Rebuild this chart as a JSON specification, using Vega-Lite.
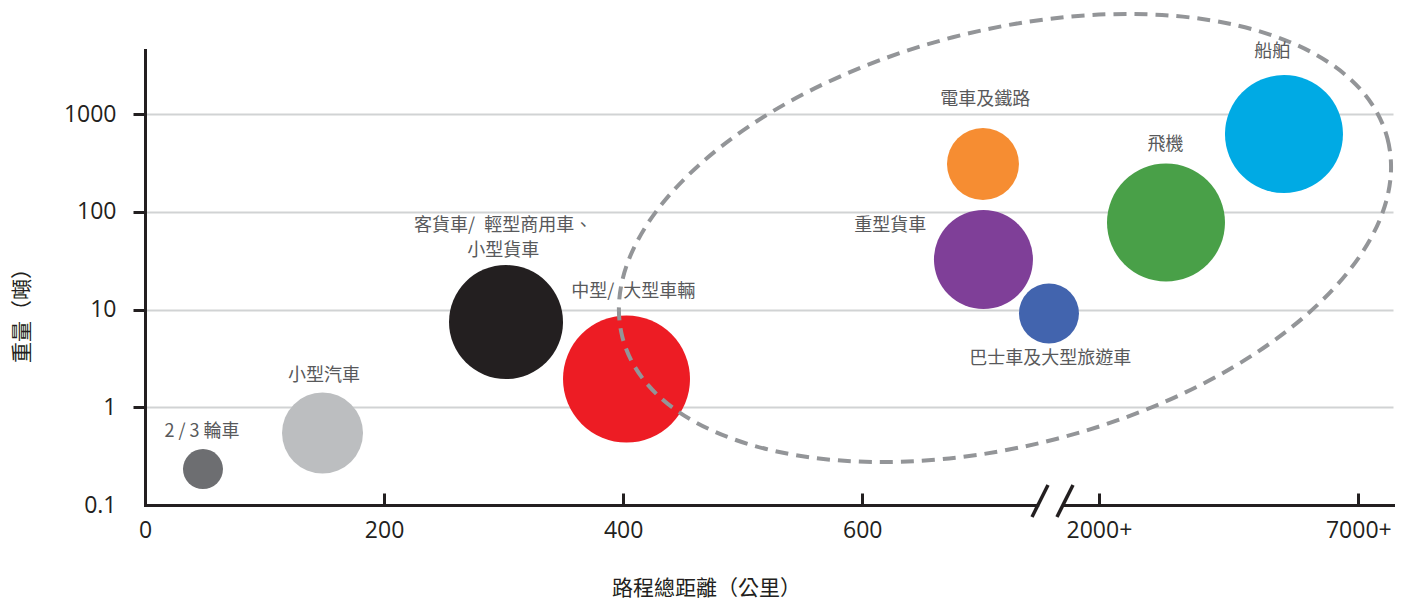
{
  "$schema": "https://vega.github.io/schema/vega-lite/v6.json",
  "width": 1248,
  "height": 455,
  "autosize": {"type": "none"},
  "padding": {"left": 145, "top": 50, "right": 9, "bottom": 98},
  "background": "white",
  "config": {"view": {"stroke": null}, "font": "Noto Sans CJK TC"},
  "datasets": {
    "bubbles": [
      {"name": "2/3輪車", "label": "2 / 3 輪車", "distance": 48.5, "weight": 0.233, "value": 16, "lx": 47.7, "ly": 0.558},
      {"name": "小型汽車", "label": "小型汽車", "distance": 148.5, "weight": 0.545, "value": 65.6, "lx": 149.8, "ly": 2.088},
      {"name": "客貨車", "label": "客貨車/\u2002輕型商用車、\n小型貨車", "distance": 302, "weight": 7.45, "value": 130, "lx": 299.6, "ly": 71.4},
      {"name": "中型/大型車輛", "label": "中型/\u2002大型車輛", "distance": 402.8, "weight": 1.945, "value": 161.3, "lx": 408.4, "ly": 15.1},
      {"name": "電車及鐵路", "label": "電車及鐵路", "distance": 701, "weight": 308, "value": 51.8, "lx": 702.9, "ly": 1390},
      {"name": "重型貨車", "label": "重型貨車", "distance": 701.4, "weight": 32.5, "value": 98, "lx": 623.4, "ly": 71.4},
      {"name": "巴士車及大型旅遊車", "label": "巴士車及大型旅遊車", "distance": 756.2, "weight": 9.1, "value": 36, "lx": 757.3, "ly": 3.12},
      {"name": "飛機", "label": "飛機", "distance": 854.1, "weight": 77.6, "value": 139.2, "lx": 853.6, "ly": 482},
      {"name": "船舶", "label": "船舶", "distance": 952.8, "weight": 624, "value": 139.2, "lx": 943, "ly": 4355}
    ],
    "ring": [{"cx": 719.4, "cy": 53.9}],
    "gap": [{"x": 748, "x2": 767.5, "y": 0.1}],
    "breaks": [
      {"x": 755.4, "y": 0.16, "x2": 742.0, "y2": 0.0754},
      {"x": 776.3, "y": 0.16, "x2": 762.9, "y2": 0.0754}
    ]
  },
  "layer": [
    {
      "data": {"name": "bubbles"},
      "mark": {"type": "circle", "opacity": 1},
      "encoding": {
        "x": {
          "field": "distance", "type": "quantitative", "title": "路程總距離（公里）",
          "scale": {"domain": [0, 1044], "nice": false, "zero": false},
          "axis": {
            "titleFont": "Noto Sans CJK TC", "titleFontSize": 21, "titleFontWeight": "normal", "titleColor": "#231f20",
            "titleX": 561, "titleY": 83, "titleBaseline": "middle", "titleAlign": "center", "titleAnchor": null,
            "values": [0, 200, 400, 600, 798, 1015],
            "labelExpr": "datum.value == 798 ? '2000+' : datum.value == 1015 ? '7000+' : datum.label",
            "labelFont": "Open Sans", "labelFontSize": 23, "labelColor": "#231f20", "labelPadding": 26,
            "labelFlush": false, "labelOverlap": false,
            "domainColor": "#231f20", "domainWidth": 3, "domainCap": "square",
            "tickColor": "#231f20", "tickWidth": 3, "tickSize": -12,
            "tickOpacity": {"condition": {"test": "datum.value == 0", "value": 0}, "value": 1},
            "grid": false
          }
        },
        "y": {
          "field": "weight", "type": "quantitative", "title": "重量（噸）",
          "scale": {"type": "log", "domain": [0.1, 4520], "nice": false},
          "axis": {
            "titleFont": "Noto Sans CJK TC", "titleFontSize": 21, "titleFontWeight": "normal", "titleColor": "#231f20",
            "titleX": -123, "titleY": 260, "titleBaseline": "middle", "titleAlign": "center", "titleAnchor": null, "titleAngle": 270,
            "values": [0.1, 1, 10, 100, 1000], "format": "~g",
            "labelFont": "Open Sans", "labelFontSize": 23, "labelColor": "#231f20", "labelPadding": 17,
            "labelOverlap": false, "labelFlush": false,
            "domainColor": "#231f20", "domainWidth": 3, "domainCap": "square",
            "tickColor": "#231f20", "tickWidth": 3, "tickSize": 12,
            "tickOpacity": {"condition": {"test": "datum.value < 0.5", "value": 0}, "value": 1},
            "grid": true, "gridColor": "#d1d3d4", "gridWidth": 2,
            "gridOpacity": {"condition": {"test": "datum.value < 0.5", "value": 0}, "value": 1}
          }
        },
        "size": {"field": "value", "type": "quantitative", "scale": {"domain": [0, 100], "range": [0, 10000]}, "legend": null},
        "color": {
          "field": "name", "type": "nominal", "legend": null,
          "scale": {
            "domain": ["2/3輪車", "小型汽車", "客貨車", "中型/大型車輛", "電車及鐵路", "重型貨車", "巴士車及大型旅遊車", "飛機", "船舶"],
            "range": ["#6d6e71", "#bcbec0", "#231f20", "#ed1c24", "#f68d32", "#7f3f98", "#4264ae", "#49a048", "#00aae4"]
          }
        }
      }
    },
    {
      "data": {"name": "ring"},
      "mark": {
        "type": "point",
        "shape": "M 1 0 C 1 0.2898 0.5523 0.5248 0 0.5248 C -0.5523 0.5248 -1 0.2898 -1 0 C -1 -0.2898 -0.5523 -0.5248 0 -0.5248 C 0.5523 -0.5248 1 -0.2898 1 0 Z",
        "size": 624732, "angle": 345.43, "filled": false, "opacity": 1,
        "stroke": "#939598", "strokeWidth": 4, "strokeDash": [13, 8]
      },
      "encoding": {
        "x": {"field": "cx", "type": "quantitative", "title": "路程總距離（公里）"},
        "y": {"field": "cy", "type": "quantitative", "title": "重量（噸）"}
      }
    },
    {
      "data": {"name": "gap"},
      "mark": {"type": "rule", "color": "white", "strokeWidth": 6},
      "encoding": {
        "x": {"field": "x", "type": "quantitative", "title": "路程總距離（公里）"},
        "x2": {"field": "x2"},
        "y": {"field": "y", "type": "quantitative", "title": "重量（噸）"}
      }
    },
    {
      "data": {"name": "breaks"},
      "mark": {"type": "rule", "color": "#231f20", "strokeWidth": 3.5},
      "encoding": {
        "x": {"field": "x", "type": "quantitative", "title": "路程總距離（公里）"},
        "x2": {"field": "x2"},
        "y": {"field": "y", "type": "quantitative", "title": "重量（噸）"},
        "y2": {"field": "y2"}
      }
    },
    {
      "data": {"name": "bubbles"},
      "mark": {"type": "text", "font": "Noto Sans CJK TC", "fontSize": 18, "color": "#58595b", "align": "center", "baseline": "middle", "lineBreak": "\n", "lineHeight": 25},
      "encoding": {
        "x": {"field": "lx", "type": "quantitative", "title": "路程總距離（公里）"},
        "y": {"field": "ly", "type": "quantitative", "title": "重量（噸）"},
        "text": {"field": "label"}
      }
    }
  ]
}
